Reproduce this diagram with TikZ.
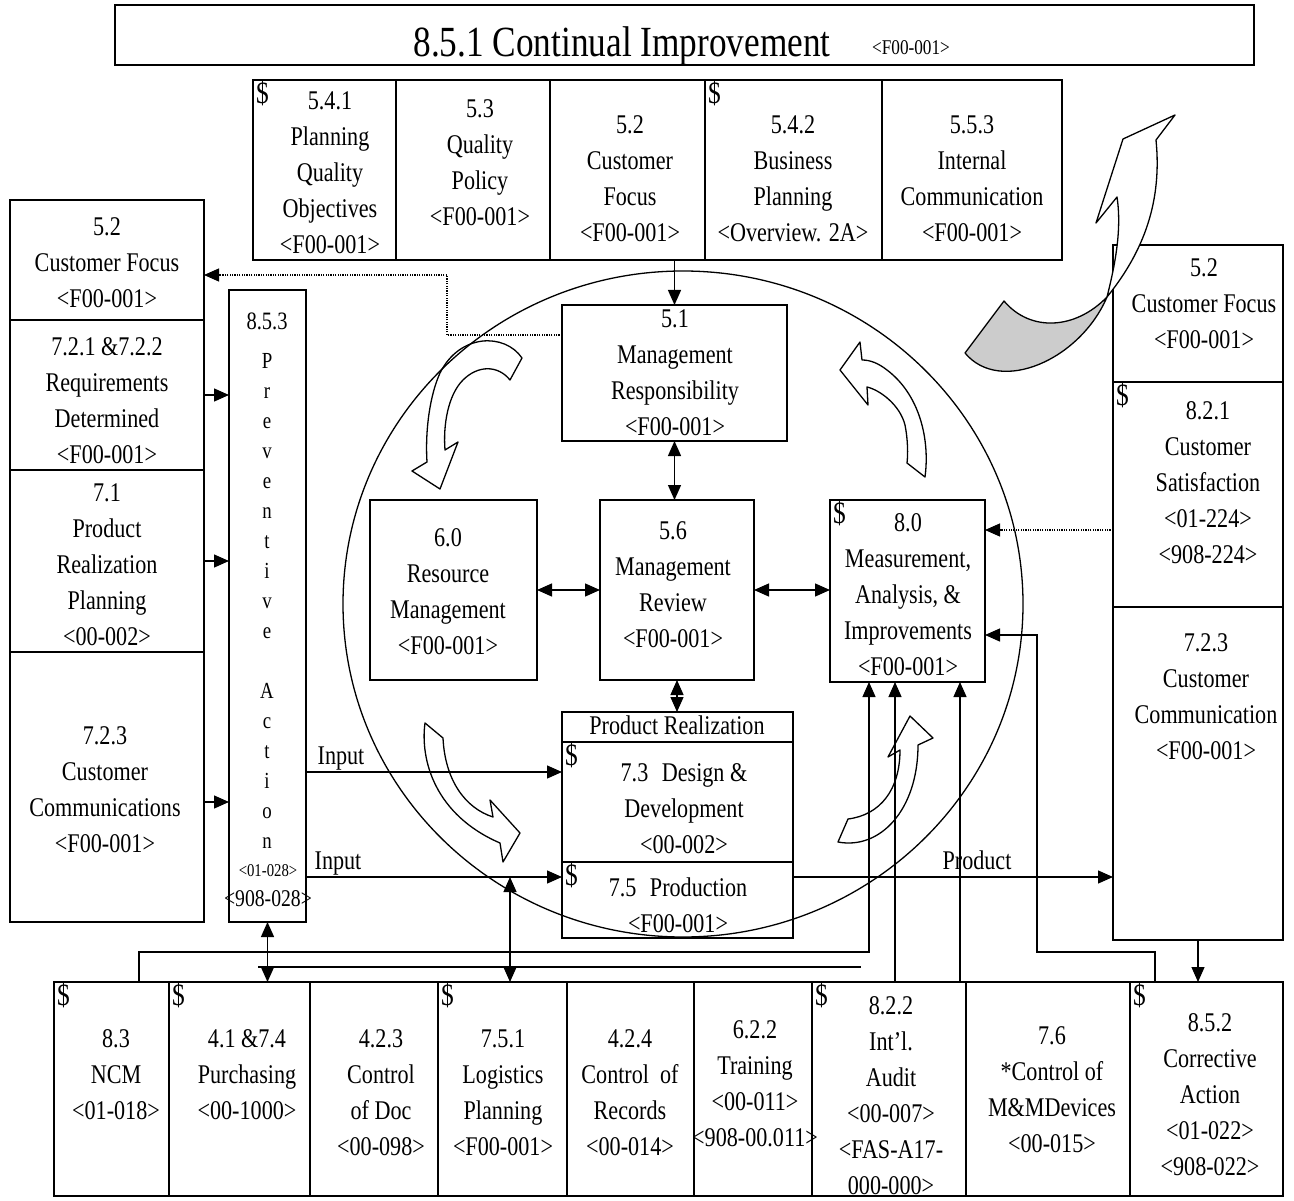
\documentclass[tikz,border=0pt]{standalone}
\usepackage{fontspec}
\setmainfont{Liberation Serif}[FakeStretch=0.82]
\usetikzlibrary{arrows.meta}
\begin{document}
\begin{tikzpicture}[x=1pt,y=-1pt,
  bx/.style={draw, line width=1.6pt, inner sep=0pt, outer sep=0pt},
  tx/.style={inner sep=0pt, anchor=north, align=center, font=\fontsize{27}{36}\selectfont},
  lb/.style={inner sep=0pt, anchor=base, font=\fontsize{27}{36}\selectfont},
  dl/.style={inner sep=0pt, anchor=north west, font=\fontsize{31}{36}\selectfont},
  cn/.style={line width=1.3pt},
  tip/.style={-{Triangle[length=15pt,width=13pt]}},
  ar/.style={cn, tip},
  dar/.style={cn, {Triangle[length=15pt,width=13pt]}-{Triangle[length=15pt,width=13pt]}},
  dotln/.style={line width=1.1pt, dash pattern=on 1.2pt off 1.2pt},
  blk/.style={line width=1.3pt, line join=round}
]
\fill[white] (0,0) rectangle (1294,1201);
\useasboundingbox (0,0) rectangle (1294,1201);

% central circle
\draw[cn] (683,604) ellipse [x radius=340pt, y radius=333pt];

% title
\node[bx, minimum width=1139pt, minimum height=60pt] (title) at (684.5,35) {};
\node[lb, font=\fontsize{43}{48}\selectfont] (titlet) at (622,57) {8.5.1 Continual Improvement};
\node[lb, font=\fontsize{21}{24}\selectfont] (titler) at (911,55) {<F00-001>};

% top row
\node[bx, minimum width=143pt, minimum height=180pt] (t541) at (324.5,170) {};
\node[bx, minimum width=154pt, minimum height=180pt] (t53) at (473,170) {};
\node[bx, minimum width=155pt, minimum height=180pt] (t52) at (627.5,170) {};
\node[bx, minimum width=177pt, minimum height=180pt] (t542) at (793.5,170) {};
\node[bx, minimum width=180pt, minimum height=180pt] (t553) at (972,170) {};
\node[dl] (t541d) at (256,81) {\$};
\node[tx] (t541t) at (330,84) {\strut 5.4.1\\Planning\\Quality\\Objectives\\<F00-001>};
\node[tx] (t53t) at (480,92) {\strut 5.3\\Quality\\Policy\\<F00-001>};
\node[tx] (t52t) at (630,108) {\strut 5.2\\Customer\\Focus\\<F00-001>};
\node[dl] (t542d) at (708,81) {\$};
\node[tx] (t542t) at (793,108) {\strut 5.4.2\\Business\\Planning\\<Overview. 2A>};
\node[tx] (t553t) at (972,108) {\strut 5.5.3\\Internal\\Communication\\<F00-001>};

% left column
\node[bx, minimum width=194pt, minimum height=120pt] (l52) at (107,260) {};
\node[bx, minimum width=194pt, minimum height=150pt] (l72) at (107,395) {};
\node[bx, minimum width=194pt, minimum height=182pt] (l71) at (107,561) {};
\node[bx, minimum width=194pt, minimum height=270pt] (l723) at (107,787) {};
\node[tx] (l52t) at (107,210) {\strut 5.2\\Customer Focus\\<F00-001>};
\node[tx] (l72t) at (107,330) {\strut 7.2.1 \&7.2.2\\Requirements\\Determined\\<F00-001>};
\node[tx] (l71t) at (107,476) {\strut 7.1\\Product\\Realization\\Planning\\<00-002>};
\node[tx] (l723t) at (105,719) {\strut 7.2.3\\Customer\\Communications\\<F00-001>};

% preventive action column
\node[bx, minimum width=77pt, minimum height=632pt] (prev) at (267.5,606) {};
\node[lb, font=\fontsize{25}{30}\selectfont] (prevn) at (267,329) {8.5.3};
\node[tx, font=\fontsize{23}{30}\selectfont] (prevt) at (267,347)
  {\strut P\\r\\e\\v\\e\\n\\t\\i\\v\\e\\[30pt]A\\c\\t\\i\\o\\n};
\node[lb, font=\fontsize{18}{20}\selectfont] (prevc1) at (268,876) {<01-028>};
\node[lb, font=\fontsize{24}{26}\selectfont] (prevc2) at (268,906) {<908-028>};

% centre boxes
\node[bx, minimum width=225pt, minimum height=136pt] (m51) at (674.5,373) {};
\node[tx] (m51t) at (675,302) {\strut 5.1\\Management\\Responsibility\\<F00-001>};
\node[bx, minimum width=167pt, minimum height=180pt] (m60) at (453.5,590) {};
\node[tx] (m60t) at (448,521) {\strut 6.0\\Resource\\Management\\<F00-001>};
\node[bx, minimum width=154pt, minimum height=180pt] (m56) at (677,590) {};
\node[tx] (m56t) at (673,514) {\strut 5.6\\Management\\Review\\<F00-001>};
\node[bx, minimum width=155pt, minimum height=182pt] (m80) at (907.5,591) {};
\node[dl] (m80d) at (833,501) {\$};
\node[tx] (m80t) at (908,506) {\strut 8.0\\Measurement,\\Analysis, \&\\Improvements\\<F00-001>};

% product realization
\node[bx, minimum width=231pt, minimum height=30pt] (prh) at (677.5,727) {};
\node[lb] (prht) at (677,734) {Product Realization};
\node[bx, minimum width=231pt, minimum height=120pt] (p73) at (677.5,802) {};
\node[dl] (p73d) at (565,743) {\$};
\node[tx] (p73t) at (684,756) {\strut 7.3\enspace Design \&\\Development\\<00-002>};
\node[bx, minimum width=231pt, minimum height=76pt] (p75) at (677.5,900) {};
\node[dl] (p75d) at (565,863) {\$};
\node[tx] (p75t) at (678,871) {\strut 7.5\enspace Production\\<F00-001>};

% right column
\node[bx, minimum width=170pt, minimum height=137pt] (r52) at (1198,313.5) {};
\node[tx] (r52t) at (1204,251) {\strut 5.2\\Customer Focus\\<F00-001>};
\node[bx, minimum width=170pt, minimum height=225pt] (r821) at (1198,494.5) {};
\node[dl] (r821d) at (1116,383) {\$};
\node[tx] (r821t) at (1208,394) {\strut 8.2.1\\Customer\\Satisfaction\\<01-224>\\<908-224>};
\node[bx, minimum width=170pt, minimum height=333pt] (r723) at (1198,773.5) {};
\node[tx] (r723t) at (1206,626) {\strut 7.2.3\\Customer\\Communication\\<F00-001>};

% bottom row
\node[bx, minimum width=115pt, minimum height=214pt] (b83) at (111.5,1089) {};
\node[bx, minimum width=141pt, minimum height=214pt] (b41) at (239.5,1089) {};
\node[bx, minimum width=128pt, minimum height=214pt] (b423) at (374,1089) {};
\node[bx, minimum width=129pt, minimum height=214pt] (b751) at (502.5,1089) {};
\node[bx, minimum width=127pt, minimum height=214pt] (b424) at (630.5,1089) {};
\node[bx, minimum width=118pt, minimum height=214pt] (b622) at (753,1089) {};
\node[bx, minimum width=154pt, minimum height=214pt] (b822) at (889,1089) {};
\node[bx, minimum width=164pt, minimum height=214pt] (b76) at (1048,1089) {};
\node[bx, minimum width=153pt, minimum height=214pt] (b852) at (1206.5,1089) {};
\node[dl] (b83d) at (57,983) {\$};
\node[tx] (b83t) at (116,1022) {\strut 8.3\\NCM\\<01-018>};
\node[dl] (b41d) at (172,983) {\$};
\node[tx] (b41t) at (247,1022) {\strut 4.1 \&7.4\\Purchasing\\<00-1000>};
\node[tx] (b423t) at (381,1022) {\strut 4.2.3\\Control\\of Doc\\<00-098>};
\node[dl] (b751d) at (441,983) {\$};
\node[tx] (b751t) at (503,1022) {\strut 7.5.1\\Logistics\\Planning\\<F00-001>};
\node[tx] (b424t) at (630,1022) {\strut 4.2.4\\Control\ \ of\\Records\\<00-014>};
\node[tx] (b622t) at (755,1013) {\strut 6.2.2\\Training\\<00-011>\\<908-00.011>};
\node[dl] (b822d) at (815,983) {\$};
\node[tx] (b822t) at (891,989) {\strut 8.2.2\\Int'l.\\Audit\\<00-007>\\<FAS-A17-\\000-000>};
\node[tx] (b76t) at (1052,1019) {\strut 7.6\\*Control of\\M\&MDevices\\<00-015>};
\node[dl] (b852d) at (1133,983) {\$};
\node[tx] (b852t) at (1210,1006) {\strut 8.5.2\\Corrective\\Action\\<01-022>\\<908-022>};

% block arrows around the circle
\draw[blk] (522,358) .. controls (505,333) and (460,333) .. (440,373)
  .. controls (430,395) and (425,430) .. (427,462) -- (412,471) -- (440,489) -- (458,442) -- (445,450)
  .. controls (443,425) and (448,395) .. (463,380) .. controls (478,365) and (498,365) .. (510,380) -- cycle;
\draw[blk] (925,477) .. controls (930,440) and (920,395) .. (887,370)
  .. controls (878,363) and (870,360) .. (862,360) -- (860,342) -- (840,370) -- (868,405) -- (867,387)
  .. controls (880,390) and (900,405) .. (905,425) .. controls (908,440) and (908,455) .. (907,463) -- cycle;
\draw[blk] (425,723) .. controls (420,760) and (435,815) .. (500,843) -- (503,862) -- (520,833) -- (490,800) -- (493,817)
  .. controls (465,808) and (445,780) .. (443,738) -- cycle;
\draw[blk] (838,842) .. controls (880,850) and (918,810) .. (918,745) -- (933,738) -- (910,716) -- (888,757) -- (900,750)
  .. controls (900,790) and (880,815) .. (848,819) -- cycle;

% big twisted arrow (top right)
\draw[blk, fill=black!20] (965,353) -- (1004,301) .. controls (1030,332) and (1075,330) .. (1107,297)
  .. controls (1080,360) and (1000,395) .. (965,353) -- cycle;
\draw[blk, fill=white] (1107,297) .. controls (1115,265) and (1122,230) .. (1117,197) -- (1096,223) -- (1123,139)
  -- (1175,115) -- (1156,140) .. controls (1162,200) and (1145,250) .. (1107,297) -- cycle;

% connectors
\draw[ar] (m51.north |- t52.south) -- (m51.north);
\coordinate (dc) at (447,275);
\draw[dotln, tip] ([yshift=-30pt]m51.north west) -| (dc) -- (l52.east |- dc);
\draw[ar] (l72.east) -- (l72.east -| prev.west);
\draw[ar] (l71.east) -- (l71.east -| prev.west);
\draw[ar] ([yshift=-15pt]l723.east) -- ([yshift=-15pt]l723.east -| prev.west);
\coordinate (in1) at ([yshift=30pt]p73.west);
\coordinate (in2) at ([yshift=23pt]p75.west);
\draw[ar] (prev.east |- in1) -- (in1);
\draw[ar] (prev.east |- in2) -- (in2);
\node[lb] (inl1) at (341,764) {Input};
\node[lb] (inl2) at (338,869) {Input};
\coordinate (pr) at ([yshift=23pt]p75.east);
\draw[ar] (pr) -- (pr -| r723.west);
\node[lb] (prl) at (977,869) {Product};
\draw[dar] (m60.east) -- (m60.east -| m56.west);
\draw[dar] (m56.east) -- (m56.east -| m80.west);
\draw[dar] (m51.south) -- (m51.south |- m56.north);
\draw[dar] (m56.south) -- (m56.south |- prh.north);
\coordinate (ds) at ([yshift=-35.5pt]r821.west);
\draw[dotln, tip] (ds) -- (ds -| m80.east);
\coordinate (c1) at (1037,952);
\draw[ar] ([xshift=-51.5pt]b852.north) |- (c1) |- ([yshift=-44pt]m80.east);
\coordinate (c2) at (869,952);
\draw[ar] ([xshift=27.5pt]b83.north) |- (c2) -- (c2 |- m80.south);
\coordinate (c3) at ([xshift=6pt]b822.north);
\draw[ar] (c3) -- (c3 |- m80.south);
\coordinate (c4) at ([xshift=71pt]b822.north);
\draw[ar] (c4) -- (c4 |- m80.south);
\draw[ar] (r723.south) -- (r723.south |- b852.north);
\draw[dar] (prev.south) -- (prev.south |- b41.north);
\coordinate (v1) at (510,877);
\draw[dar] (v1) -- (v1 |- b751.north);
\coordinate (busL) at (258,967);
\coordinate (busR) at (861,967);
\draw[line width=2.4pt] (busL) -- (busR);
\end{tikzpicture}
\end{document}
